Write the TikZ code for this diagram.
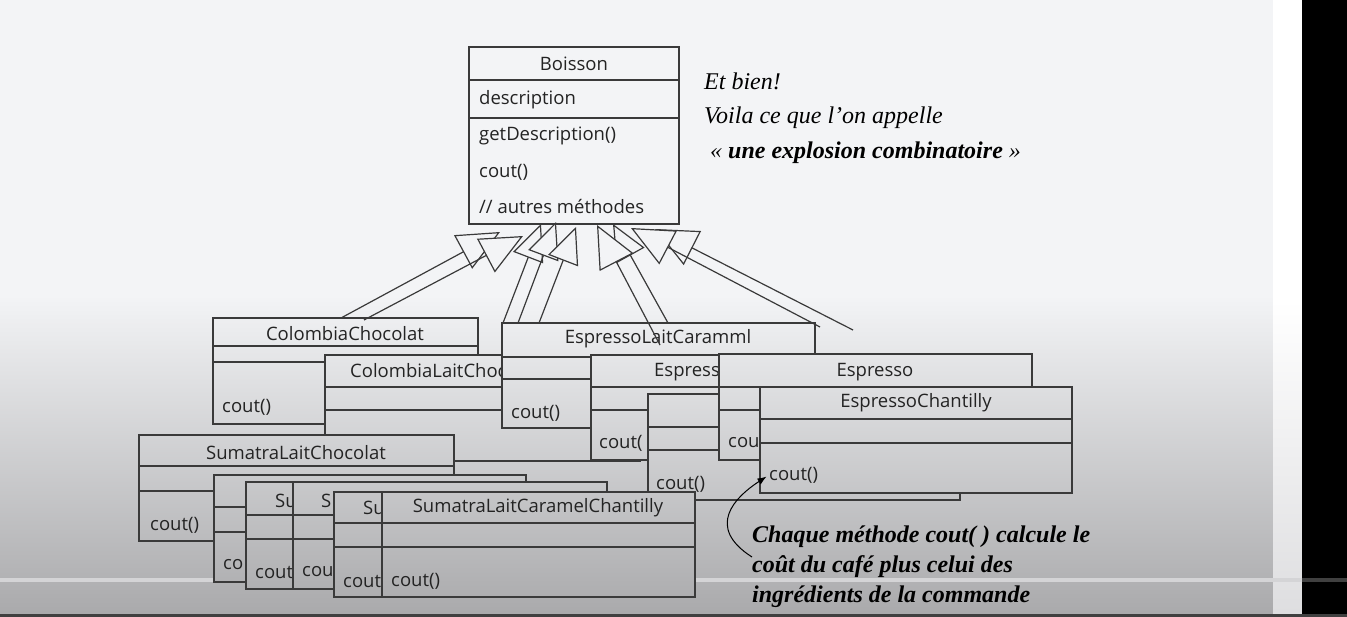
\documentclass[tikz,border=0pt]{standalone}
\usepackage{fontspec}
\setmainfont{Open Sans}
\newfontfamily\guion{Liberation Serif}
\usetikzlibrary{arrows.meta}

\definecolor{fondo}{RGB}{243,244,246}
\definecolor{fondomedio}{RGB}{222,222,224}
\definecolor{fondobajo}{RGB}{170,170,172}
\definecolor{linea}{RGB}{58,58,58}
\definecolor{texto}{RGB}{35,35,35}
\definecolor{barra}{RGB}{212,212,214}

% fondo de la diapositiva
\newcommand{\fondo}{%
  \fill[fondo] (0,0) rectangle (1302,296);
  \shade[top color=fondo, middle color=fondomedio, bottom color=fondobajo] (0,295) rectangle (1302,613);
}

% caja de clase: nombre, x1, y1, x2, y2, linea1, linea2
\newcommand{\clase}[7]{%
  \begin{scope}
    \clip (#2,#3) rectangle (#4,#5);
    \fondo
  \end{scope}
  \node[caja, minimum width={#4-#2}, minimum height={#5-#3}, anchor=north west] (#1) at (#2,#3) {};
  \draw[caja] (#2,#6) -- (#4,#6) (#2,#7) -- (#4,#7);
}

\begin{document}
\begin{tikzpicture}[x=1pt, y=-1pt,
    caja/.style={draw=linea, line width=1.3pt, inner sep=0pt, outer sep=0pt},
    titulo/.style={font=\fontsize{18.5}{20}\selectfont, text=texto, inner sep=0pt},
    metodo/.style={titulo, anchor=west},
    hereda/.style={draw=linea, line width=1.2pt, -{Triangle[length=42pt, width=38pt, fill=fondo]}},
    hereda2/.style={hereda, -{Triangle[length=36pt, width=32pt, fill=fondo]}},
    comentario/.style={font=\guion\itshape\fontsize{24}{34.5}\selectfont, align=left, anchor=west, inner sep=0pt},
    nota/.style={font=\guion\bfseries\itshape\fontsize{24}{30}\selectfont, align=left, anchor=west, inner sep=0pt},
    llamada/.style={draw=black, line width=1pt, -{Latex[length=9pt, width=7pt]}}]

\useasboundingbox (0,0) rectangle (1347,617);

% Fondo
\fondo
\fill[white] (1273,0) rectangle (1302,300);
\shade[top color=white, bottom color=fondomedio] (1273,300) rectangle (1302,613);
\fill[black] (1302,0) rectangle (1347,617);
\fill[barra] (0,578) rectangle (1302,582);
\fill[black!75] (1302,578) rectangle (1347,582);
\fill[black!75] (0,614) rectangle (1347,617);

% Clase base
\clase{boisson}{469}{47}{679}{224}{80}{118}
\node[titulo] (bnom) at (574,64) {Boisson};
\node[metodo] (bdesc) at (479,100) {description};
\node[metodo] (bget) at (479,136) {getDescription()};
\node[metodo] (bcout) at (479,172) {cout()};
\node[metodo] (botras) at (479,207) {// autres méthodes};

% Colombia
\clase{cc}{213}{318}{478}{424}{346}{362}
\node[titulo] (cc-t) at (345,334) {ColombiaChocolat};
\node[metodo] (cc-c) at (222,407) {cout()};

\clase{clc}{325}{355}{640}{461}{387}{410}
\node[metodo] (clc-t) at (350,371) {ColombiaLaitChoc};

% Espresso
\clase{elc}{502}{323}{815}{428}{357}{379}
\node[titulo] (elc-t) at (658,339) {EspressoLaitCaramml};
\node[metodo] (elc-c) at (511,413) {cout()};

\clase{e2}{591}{355}{900}{460}{387}{410}
\node[metodo] (e2-t) at (654,372) {Espress};
\node[metodo] (e2-c) at (599,443) {cout(};

\clase{e3}{648}{394}{960}{500}{427}{450}
\node[metodo] (e3-c) at (656,484) {cout()};

\clase{esp}{719}{354}{1032}{460}{387}{410}
\node[titulo] (esp-t) at (875,372) {Espresso};
\node[metodo] (esp-c) at (728,443) {cou};

\clase{ech}{760}{387}{1072}{493}{419}{443}
\node[titulo] (ech-t) at (916,403) {EspressoChantilly};
\node[metodo] (ech-c) at (769,475) {cout()};

% Sumatra
\clase{slc}{139}{435}{454}{541}{466}{491}
\node[titulo] (slc-t) at (296,453) {SumatraLaitChocolat};
\node[metodo] (slc-c) at (150,525) {cout()};

\clase{s2}{214}{475}{526}{582}{507}{532}
\node[metodo] (s2-c) at (223,565) {co};

\clase{s3}{246}{482}{560}{589}{515}{539}
\node[metodo] (s3-t) at (275,501) {Su};
\node[metodo] (s3-c) at (255,572) {cout};

\clase{s4}{293}{482}{607}{589}{515}{539}
\node[metodo] (s4-t) at (321,501) {S};
\node[metodo] (s4-c) at (302,572) {cou};

\clase{s5}{334}{492}{650}{597}{523}{547}
\node[metodo] (s5-t) at (363,508) {Su};
\node[metodo] (s5-c) at (343,581) {cout};

\clase{slcc}{382}{492}{695}{597}{523}{547}
\node[titulo] (slcc-t) at (538,508) {SumatraLaitCaramelChantilly};
\node[metodo] (slcc-c) at (391,581) {cout()};

% Herencia
\coordinate (p1) at (341,318); \coordinate (t1) at (500,232);
\coordinate (p2) at (364,320); \coordinate (t2) at (523,236);
\coordinate (p3) at (503,323); \coordinate (t3) at (541,224);
\coordinate (p4) at (518,323); \coordinate (t4) at (556,222);
\coordinate (p5) at (539,323); \coordinate (t5) at (576,227);
\coordinate (p6) at (660,345); \coordinate (t6) at (597,225);
\coordinate (p7) at (668,323); \coordinate (t7) at (613,224);
\coordinate (p8) at (820,327); \coordinate (t8) at (631,228);
\coordinate (p9) at (853,330); \coordinate (t9) at (655,229);

\draw[hereda] (p1) -- (t1);
\draw[hereda] (p2) -- (t2);
\draw[hereda2] (p3) -- (t3);
\draw[hereda2] (p4) -- (t4);
\draw[hereda2] (p5) -- (t5);
\draw[hereda2] (p7) -- (t7);
\draw[hereda] (p6) -- (t6);
\draw[hereda] (p9) -- (t9);
\draw[hereda] (p8) -- (t8);

% Textos
\node[comentario] (exclam) at (704,118) {Et bien!\\Voila ce que l’on appelle\\\hspace{6pt}« \textbf{une explosion combinatoire} »};

\node[nota] (nota) at (752,567) {Chaque méthode cout( ) calcule le\\coût du café plus celui des\\ingrédients de la commande};
\coordinate (c0) at (752,557);
\draw[llamada, shorten >=3pt] (c0) .. controls (705,527) and (735,497) .. (ech-c.west);

\end{tikzpicture}
\end{document}
